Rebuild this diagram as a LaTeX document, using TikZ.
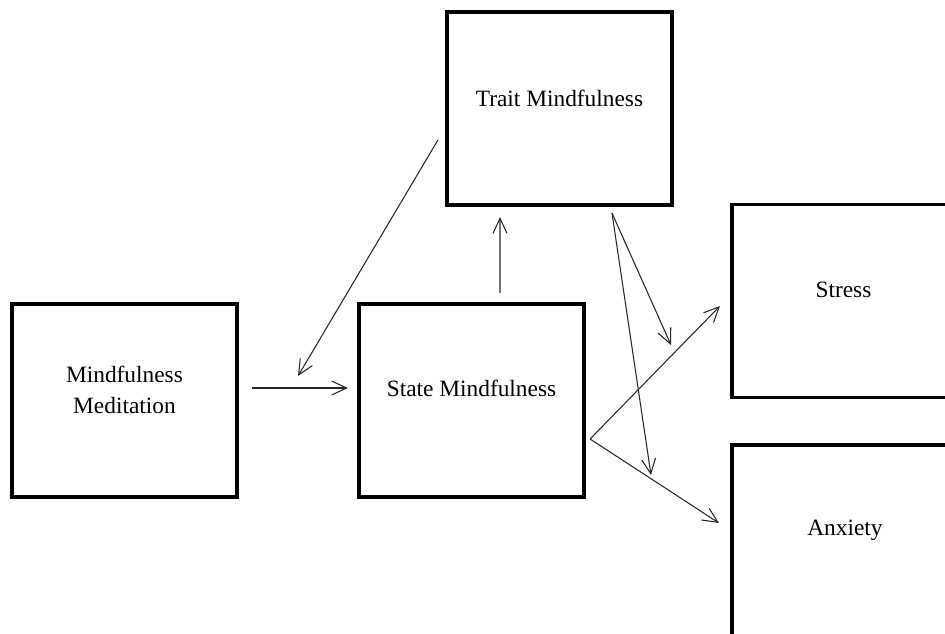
\documentclass[tikz,border=0pt]{standalone}
\usepackage{fontspec}
\setmainfont{Liberation Serif}
\usetikzlibrary{arrows.meta, positioning, calc}

\begin{document}
\begin{tikzpicture}[
    box/.style={rectangle,draw=black,line width=1.8pt,minimum width=4.5cm,minimum height=3.86cm},
    testo/.style={align=center,font=\fontsize{13.3}{17.8}\selectfont},
    freccia/.style={->,line width=0.6pt,draw=black!85},
    >={Straight Barb[length=3mm,width=2.8mm]}
]
    \useasboundingbox (0,0) rectangle (18.9,12.66);
    \clip (0,0) rectangle (18.9,12.66);

    % Riquadri
    \node[box] (mm) at (2.49,4.65) {};
    \node[box] (sm) at (9.43,4.65) {};
    \node[box] (tm) at (11.19,10.49) {};
    \node[box] (st) at (16.89,6.64) {};
    \node[box] (ax) at (16.89,1.83) {};

    % Testi
    \node[testo] (mmt) at (2.49,4.86) {Mindfulness\\Meditation};
    \node[testo] (smt) at (9.43,4.90) {State Mindfulness};
    \node[testo] (tmt) at (11.19,10.70) {Trait Mindfulness};
    \node[testo] (stt) at (16.87,6.86) {Stress};
    \node[testo] (axt) at (16.90,2.06) {Anxiety};

    % Punti di arrivo sulle frecce
    \coordinate (mmhit) at (5.96,5.14);
    \coordinate (mod1) at (13.42,5.76);
    \coordinate (mod2) at (13.02,3.16);

    % Frecce
    \draw[freccia,shorten <=0.27cm,shorten >=0.19cm] ([yshift=0.25cm]mm.east) -- ([yshift=0.25cm]sm.west);
    \draw[freccia,shorten <=0.19cm,shorten >=0.21cm] ([xshift=0.57cm]sm.north) -- ([xshift=-1.19cm]tm.south);
    \draw[freccia] ([xshift=-0.15cm,yshift=-0.63cm]tm.west) -- (mmhit);
    \draw[freccia] ([xshift=1.05cm,yshift=-0.13cm]tm.south) -- (mod1);
    \draw[freccia] ([xshift=1.05cm,yshift=-0.13cm]tm.south) -- (mod2);
    \draw[freccia] ([xshift=0.09cm,yshift=-0.77cm]sm.east) -- ([xshift=-0.21cm,yshift=-0.10cm]st.west);
    \draw[freccia] ([xshift=0.09cm,yshift=-0.77cm]sm.east) -- ([xshift=-0.23cm,yshift=0.37cm]ax.west);
\end{tikzpicture}
\end{document}
